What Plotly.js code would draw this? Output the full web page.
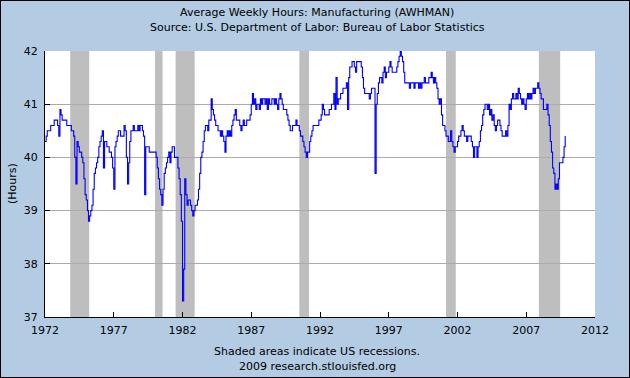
<!DOCTYPE html>
<html><head><meta charset="utf-8">
<script src="https://cdn.plot.ly/plotly-3.0.1.min.js"></script>
<style>
html,body{margin:0;padding:0;background:#b3cce4;}
#chart{width:628px;height:376px;border:1px solid #000;}
</style>
</head><body><div id="chart"></div>
<script>
// Monthly average weekly hours, manufacturing (Jan 1972 .. Nov 2009)
const hours1970s = [
  40.3, 40.4, 40.5, 40.5, 40.5, 40.6, 40.6, 40.6, 40.7, 40.7, 40.7, 40.6, // 1972
  40.4, 40.9, 40.8, 40.7, 40.7, 40.7, 40.7, 40.6, 40.6, 40.6, 40.6, 40.5, // 1973
  40.5, 40.4, 40.0, 39.5, 40.3, 40.2, 40.1, 40.1, 40.0, 39.9, 39.6, 39.3, // 1974
  39.2, 39.0, 38.8, 38.9, 39.0, 39.1, 39.4, 39.7, 39.8, 39.9, 40.0, 40.2, // 1975
  40.3, 40.4, 40.5, 39.8, 40.3, 40.3, 40.2, 40.2, 40.1, 40.1, 40.0, 39.8, // 1976
  39.4, 40.2, 40.3, 40.4, 40.5, 40.5, 40.4, 40.4, 40.4, 40.6, 40.5, 40.0, // 1977
  39.5, 39.9, 40.3, 40.5, 40.5, 40.6, 40.5, 40.5, 40.5, 40.6, 40.5, 40.6, // 1978
  40.6, 40.5, 40.4, 39.3, 40.2, 40.2, 40.2, 40.1, 40.1, 40.1, 40.1, 40.1  // 1979
];
const hours1980s = [
  40.1, 40.0, 39.8, 39.6, 39.4, 39.3, 39.1, 39.4, 39.7, 39.8, 39.9, 40.0, // 1980
  40.1, 39.9, 40.1, 40.2, 40.2, 40.0, 40.0, 40.0, 39.8, 39.6, 39.3, 38.8, // 1981
  37.3, 37.9, 39.6, 39.3, 39.1, 39.2, 39.2, 39.1, 39.0, 38.9, 39.0, 39.1, // 1982
  39.1, 39.2, 39.4, 39.7, 40.0, 40.1, 40.3, 40.5, 40.6, 40.6, 40.5, 40.7, // 1983
  40.7, 41.1, 40.9, 40.8, 40.7, 40.6, 40.6, 40.5, 40.5, 40.4, 40.5, 40.4, // 1984
  40.3, 40.1, 40.4, 40.5, 40.4, 40.5, 40.4, 40.6, 40.7, 40.8, 40.9, 40.7, // 1985
  40.7, 40.7, 40.6, 40.5, 40.6, 40.7, 40.6, 40.6, 40.7, 40.7, 40.7, 40.8, // 1986
  41.0, 41.2, 41.0, 41.1, 40.9, 41.0, 41.0, 40.9, 41.1, 41.0, 41.1, 41.1, // 1987
  41.0, 41.1, 40.9, 41.1, 41.0, 41.0, 41.1, 41.1, 41.0, 41.1, 41.0, 40.9, // 1988
  41.1, 41.2, 41.1, 41.0, 40.9, 40.9, 40.9, 40.8, 40.7, 40.6, 40.5, 40.5  // 1989
];
const hours1990s = [
  40.6, 40.6, 40.6, 40.7, 40.6, 40.6, 40.5, 40.4, 40.4, 40.3, 40.2, 40.1, // 1990
  40.0, 40.1, 40.1, 40.3, 40.4, 40.5, 40.6, 40.6, 40.6, 40.6, 40.6, 40.7, // 1991
  40.7, 40.8, 41.0, 40.9, 40.8, 40.8, 40.8, 40.8, 40.9, 40.9, 41.0, 41.0, // 1992
  41.2, 40.9, 41.5, 41.0, 41.1, 41.1, 41.2, 41.2, 41.3, 41.3, 41.3, 41.4, // 1993
  40.9, 41.5, 41.7, 41.7, 41.8, 41.8, 41.7, 41.6, 41.8, 41.8, 41.8, 41.8, // 1994
  41.7, 41.5, 41.3, 41.2, 41.2, 41.2, 41.2, 41.1, 41.2, 41.3, 41.3, 41.3, // 1995
  39.7, 41.0, 41.2, 41.4, 41.5, 41.5, 41.4, 41.6, 41.7, 41.5, 41.6, 41.6, // 1996
  41.7, 41.8, 41.7, 41.6, 41.6, 41.6, 41.6, 41.7, 41.8, 41.9, 42.0, 41.9, // 1997
  41.8, 41.6, 41.4, 41.4, 41.4, 41.4, 41.3, 41.4, 41.4, 41.4, 41.3, 41.4, // 1998
  41.4, 41.4, 41.3, 41.4, 41.3, 41.4, 41.4, 41.5, 41.4, 41.4, 41.4, 41.5  // 1999
];
const hours2000s = [
  41.5, 41.6, 41.5, 41.4, 41.5, 41.4, 41.3, 41.1, 41.0, 41.1, 40.8, 40.6, // 2000
  40.6, 40.5, 40.4, 40.4, 40.3, 40.3, 40.5, 40.3, 40.2, 40.1, 40.2, 40.2, // 2001
  40.3, 40.4, 40.4, 40.5, 40.6, 40.5, 40.4, 40.4, 40.3, 40.4, 40.4, 40.4, // 2002
  40.3, 40.2, 40.0, 40.2, 40.2, 40.0, 40.2, 40.3, 40.5, 40.6, 40.8, 40.9, // 2003
  41.0, 41.0, 40.9, 41.0, 40.8, 40.9, 40.7, 40.8, 40.6, 40.5, 40.6, 40.7, // 2004
  40.7, 40.6, 40.5, 40.4, 40.4, 40.4, 40.5, 40.4, 40.6, 41.0, 40.9, 41.1, // 2005
  41.2, 41.1, 41.1, 41.2, 41.1, 41.3, 41.2, 41.1, 41.0, 41.1, 41.0, 40.9, // 2006
  41.1, 41.2, 41.1, 41.2, 41.1, 41.2, 41.3, 41.2, 41.3, 41.3, 41.4, 41.3, // 2007
  41.2, 41.1, 41.1, 40.9, 40.9, 40.9, 41.0, 40.8, 40.6, 40.3, 40.1, 39.8, // 2008
  39.7, 39.4, 39.5, 39.4, 39.6, 39.9, 39.9, 39.9, 40.0, 40.2, 40.4        // 2009
];
const firstYear = 1972;

const recessionStarts = ['1973-11-01', '1980-01-01', '1981-07-01', '1990-07-01', '2001-03-01', '2007-12-01'];
const recessionEnds   = ['1975-03-20', '1980-07-20', '1982-11-20', '1991-03-15', '2001-11-15', '2009-06-20'];

const xTickYears = [1972, 1977, 1982, 1987, 1992, 1997, 2002, 2007, 2012];
const yTickValues = [37, 38, 39, 40, 41, 42];

const titleLine1 = 'Average Weekly Hours: Manufacturing (AWHMAN)';
const titleLine2 = 'Source: U.S. Department of Labor: Bureau of Labor Statistics';
const noteLine1 = 'Shaded areas indicate US recessions.';
const noteLine2 = '2009 research.stlouisfed.org';
const yTitle = '(Hours)';

const hours = hours1970s.concat(hours1980s, hours1990s, hours2000s);
const dates = hours.map((_, i) => {
  const y = firstYear + Math.floor(i / 12);
  const m = (i % 12) + 1;
  return y + '-' + (m < 10 ? '0' + m : m) + '-01';
});

const font = {family: 'DejaVu Sans, Verdana, sans-serif', size: 11, color: '#000'};

const shapes = recessionStarts.map((s, i) => ({
  type: 'rect', xref: 'x', yref: 'y',
  x0: s, x1: recessionEnds[i], y0: 37, y1: 42,
  fillcolor: '#bebebe', line: {width: 0}, layer: 'below'
}));

const annotations = [
  {text: titleLine1, x: 0.495, y: 1.1466},
  {text: titleLine2, x: 0.495, y: 1.0902},
  {text: noteLine1, x: 0.495, y: -0.128},
  {text: noteLine2, x: 0.495, y: -0.1845}
].map(a => Object.assign({xref: 'paper', yref: 'paper', showarrow: false,
  xanchor: 'center', yanchor: 'middle', font: font}, a));
annotations.push({text: yTitle, xref: 'paper', yref: 'paper', x: -0.06, y: 0.5,
  textangle: -90, showarrow: false, xanchor: 'center', yanchor: 'middle', font: font});

const trace = {
  type: 'scatter', mode: 'lines', x: dates, y: hours,
  line: {color: '#0000ff', width: 1.1, shape: 'hv'},
  hoverinfo: 'skip'
};

const layout = {
  width: 628, height: 376,
  margin: {l: 44, r: 34, t: 50, b: 60},
  paper_bgcolor: '#b3cce4', plot_bgcolor: '#ffffff',
  font: font, showlegend: false,
  xaxis: {
    type: 'date',
    range: [firstYear + '-01-01', xTickYears[xTickYears.length - 1] + '-01-01'],
    tickmode: 'array',
    tickvals: xTickYears.map(y => y + '-01-01'),
    ticktext: xTickYears.map(String),
    ticks: 'inside', ticklen: 5, tickcolor: '#000', tickwidth: 1,
    ticklabelstandoff: 3,
    showline: true, linecolor: '#000', linewidth: 1,
    showgrid: false, zeroline: false, tickfont: font
  },
  yaxis: {
    range: [37, 42],
    tickmode: 'array', tickvals: yTickValues, ticktext: yTickValues.map(String),
    ticks: 'inside', ticklen: 5, tickcolor: '#000', tickwidth: 1,
    ticklabelstandoff: 4,
    showline: true, linecolor: '#000', linewidth: 1,
    showgrid: true, gridcolor: '#ababab', gridwidth: 1,
    zeroline: false, tickfont: font
  },
  shapes: shapes,
  annotations: annotations
};

Plotly.newPlot('chart', [trace], layout, {displayModeBar: false, staticPlot: true});
</script>
</body></html>
